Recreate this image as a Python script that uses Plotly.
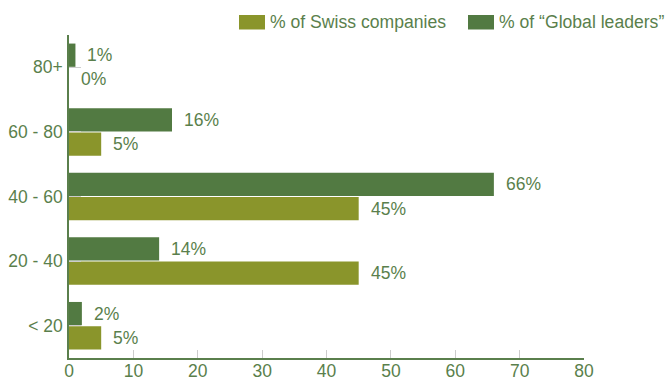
import plotly.graph_objects as go

# Share of companies by band, bottom to top
categories = ["< 20", "20 - 40", "40 - 60", "60 - 80", "80+"]
swiss_pct = [5, 45, 45, 5, 0]
global_pct = [2, 14, 66, 16, 1]
x_ticks = [0, 10, 20, 30, 40, 50, 60, 70, 80]
series_names = ["% of Swiss companies", "% of “Global leaders”"]

GREEN_TEXT = "#5a7f4c"
SWISS_COLOR = "#8a952b"
GLOBAL_COLOR = "#527a42"
FONT = "Liberation Sans, Arial, sans-serif"
LABEL_SIZE = 17.5

BARGAP = 0.25
GROUPGAP = 0.04
HALF_SLOT = (1 - BARGAP) / 4  # offset of each bar centre from the category centre

fig = go.Figure()
fig.add_trace(go.Bar(
    name=series_names[0], y=categories, x=swiss_pct, orientation="h",
    marker=dict(color=SWISS_COLOR, line=dict(width=0)),
))
fig.add_trace(go.Bar(
    name=series_names[1], y=categories, x=global_pct, orientation="h",
    marker=dict(color=GLOBAL_COLOR, line=dict(width=0)),
))

# value labels just past the end of each bar
annotations = []
for i, (s, g) in enumerate(zip(swiss_pct, global_pct)):
    for val, off in ((s, -HALF_SLOT), (g, HALF_SLOT)):
        annotations.append(dict(
            x=val, y=i + off, xref="x", yref="y", text=f"{val}%",
            showarrow=False, xanchor="left", yanchor="middle", xshift=10,
            font=dict(size=LABEL_SIZE, color=GREEN_TEXT, family=FONT),
        ))

# legend drawn as swatches + labels above the plot
shapes = []
legend_items = [
    (series_names[0], SWISS_COLOR, 239),
    (series_names[1], GLOBAL_COLOR, 468),
]
PLOT_L, PLOT_W, PLOT_T, PLOT_H = 69, 515, 35, 323
def px_x(px):
    return (px - PLOT_L) / PLOT_W
def px_y(py):
    return (PLOT_T + PLOT_H - py) / PLOT_H

for name, color, left in legend_items:
    shapes.append(dict(
        type="rect", xref="paper", yref="paper",
        x0=px_x(left), x1=px_x(left + 26), y0=px_y(29.5), y1=px_y(15),
        fillcolor=color, line=dict(width=0),
    ))
    annotations.append(dict(
        x=px_x(left + 29), y=px_y(22), xref="paper", yref="paper",
        text=name, showarrow=False, xanchor="left", yanchor="middle",
        font=dict(size=17.6, color=GREEN_TEXT, family=FONT),
    ))

fig.update_layout(
    width=669, height=381,
    margin=dict(l=PLOT_L, r=669 - PLOT_L - PLOT_W, t=PLOT_T, b=381 - PLOT_T - PLOT_H,
                autoexpand=False),
    paper_bgcolor="white", plot_bgcolor="white",
    barmode="group", bargap=BARGAP, bargroupgap=GROUPGAP,
    font=dict(family=FONT, size=LABEL_SIZE, color=GREEN_TEXT),
    showlegend=False,
    annotations=annotations,
    shapes=shapes,
    xaxis=dict(
        range=[0, 80], tickvals=x_ticks, showgrid=False, zeroline=False,
        showline=True, linecolor=GREEN_TEXT, linewidth=1.5,
        ticks="inside", ticklen=8, tickcolor="#cccccc", tickwidth=1,
        tickfont=dict(size=LABEL_SIZE, color=GREEN_TEXT), ticklabelstandoff=-4,
        automargin=False,
    ),
    yaxis=dict(
        categoryorder="array", categoryarray=categories, range=[-0.5, 4.5],
        showgrid=False, zeroline=False,
        showline=True, linecolor=GREEN_TEXT, linewidth=1.5,
        ticks="inside", ticklen=12, tickcolor="#cccccc", tickwidth=1,
        tickfont=dict(size=LABEL_SIZE, color=GREEN_TEXT), ticklabelstandoff=1,
        automargin=False,
    ),
)

fig.write_html("out.html")
